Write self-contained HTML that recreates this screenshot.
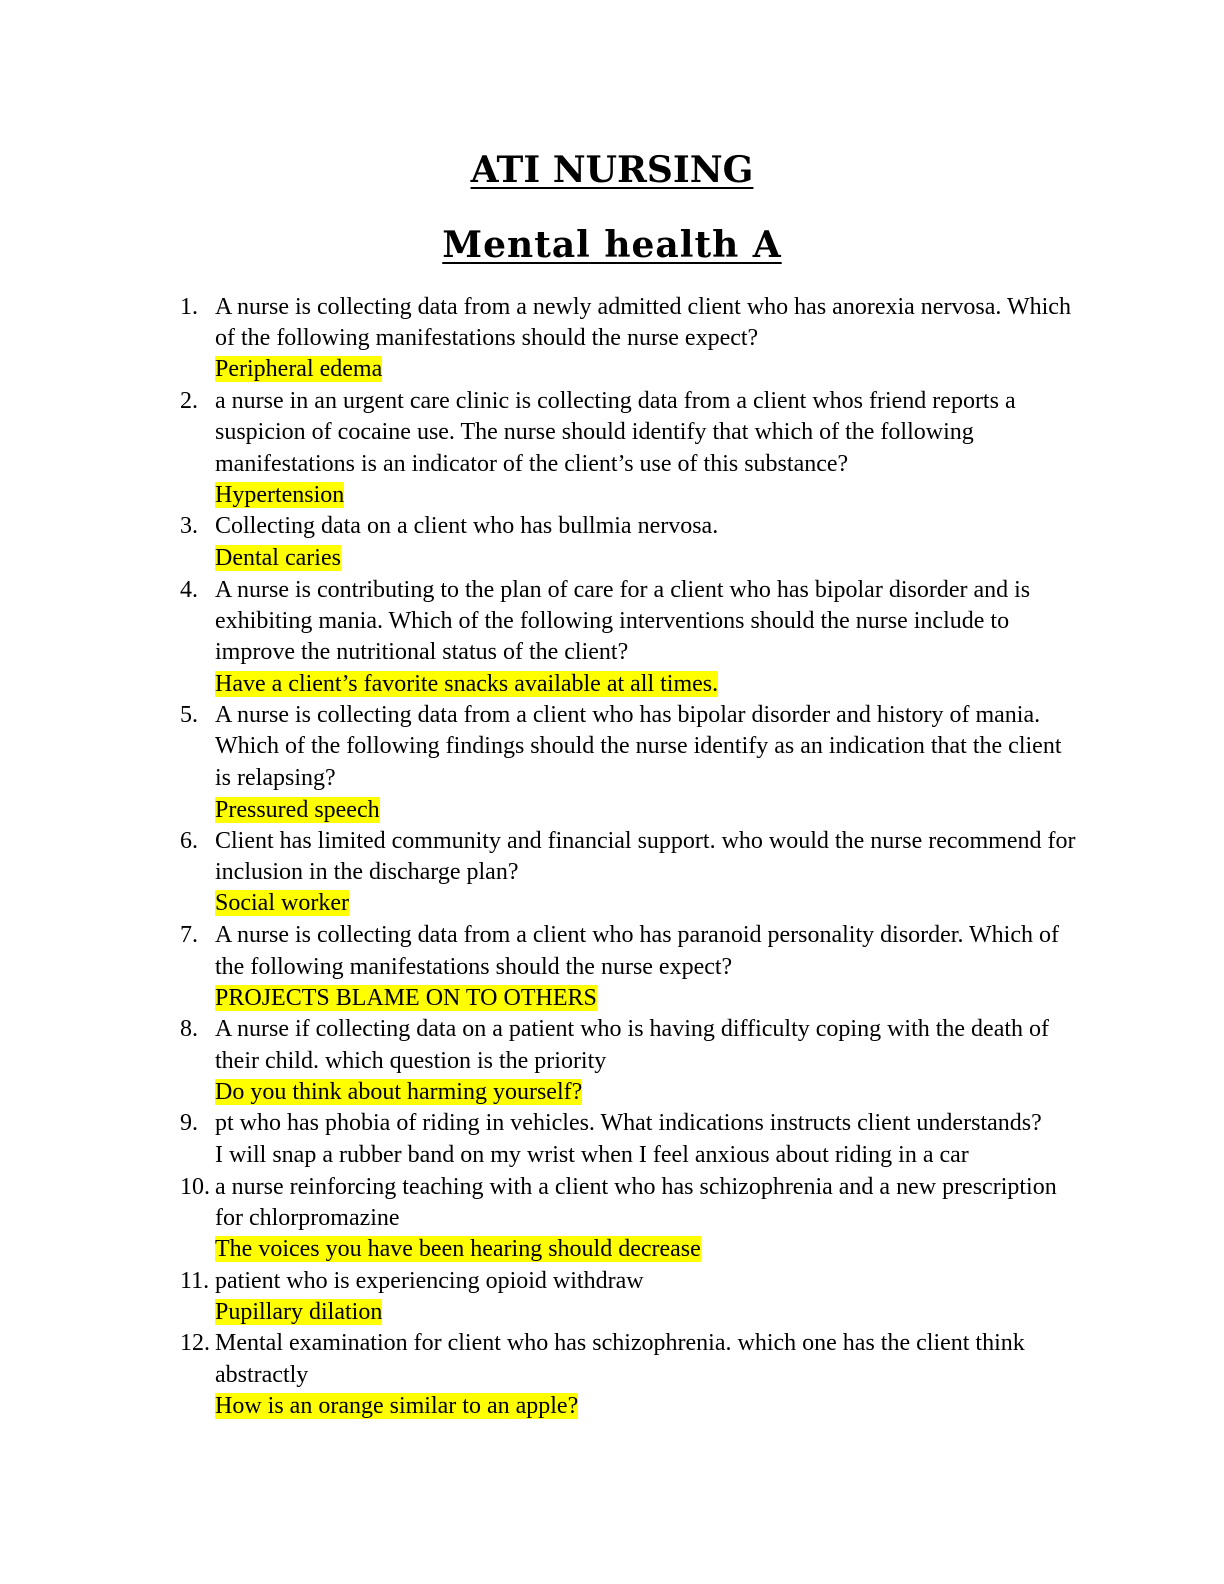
<!DOCTYPE html>
<html><head><meta charset="utf-8"><style>
body{margin:0;background:#fff;}
.p{position:relative;width:1224px;height:1584px;background:#fff;font-family:"Liberation Serif",serif;color:#000;}
.t{position:absolute;left:0;width:1224px;text-align:center;font-weight:bold;font-size:36px;line-height:48px;font-family:"DejaVu Serif",serif;}
.t span{text-decoration:underline;text-decoration-thickness:2px;text-underline-offset:5px;}
.l{position:absolute;left:215px;font-size:24px;line-height:26px;white-space:nowrap;}
.n{position:absolute;left:180px;font-size:24px;line-height:26px;}
.h{background:#ffff00;}
</style></head><body><div class="p">
<div class="t" style="top:146px"><span>ATI NURSING</span></div>
<div class="t" style="top:221px"><span style="letter-spacing:1px">Mental health A</span></div>

<div class="n" style="top:294px">1.</div>
<div class="l" style="top:294px">A nurse is collecting data from a newly admitted client who has anorexia nervosa. Which</div>
<div class="l" style="top:325px">of the following manifestations should the nurse expect?</div>
<div class="l" style="top:356px"><span class="h">Peripheral edema</span></div>

<div class="n" style="top:388px">2.</div>
<div class="l" style="top:388px">a nurse in an urgent care clinic is collecting data from a client whos friend reports a</div>
<div class="l" style="top:419px">suspicion of cocaine use. The nurse should identify that which of the following</div>
<div class="l" style="top:451px">manifestations is an indicator of the client’s use of this substance?</div>
<div class="l" style="top:482px"><span class="h">Hypertension</span></div>

<div class="n" style="top:513px">3.</div>
<div class="l" style="top:513px">Collecting data on a client who has bullmia nervosa.</div>
<div class="l" style="top:545px"><span class="h">Dental caries</span></div>

<div class="n" style="top:577px">4.</div>
<div class="l" style="top:577px">A nurse is contributing to the plan of care for a client who has bipolar disorder and is</div>
<div class="l" style="top:608px">exhibiting mania. Which of the following interventions should the nurse include to</div>
<div class="l" style="top:639px">improve the nutritional status of the client?</div>
<div class="l" style="top:671px"><span class="h">Have a client’s favorite snacks available at all times.</span></div>

<div class="n" style="top:702px">5.</div>
<div class="l" style="top:702px">A nurse is collecting data from a client who has bipolar disorder and history of mania.</div>
<div class="l" style="top:733px">Which of the following findings should the nurse identify as an indication that the client</div>
<div class="l" style="top:765px">is relapsing?</div>
<div class="l" style="top:797px"><span class="h">Pressured speech</span></div>

<div class="n" style="top:828px">6.</div>
<div class="l" style="top:828px">Client has limited community and financial support. who would the nurse recommend for</div>
<div class="l" style="top:859px">inclusion in the discharge plan?</div>
<div class="l" style="top:890px"><span class="h">Social worker</span></div>

<div class="n" style="top:922px">7.</div>
<div class="l" style="top:922px">A nurse is collecting data from a client who has paranoid personality disorder. Which of</div>
<div class="l" style="top:954px">the following manifestations should the nurse expect?</div>
<div class="l" style="top:985px"><span class="h">PROJECTS BLAME ON TO OTHERS</span></div>

<div class="n" style="top:1016px">8.</div>
<div class="l" style="top:1016px">A nurse if collecting data on a patient who is having difficulty coping with the death of</div>
<div class="l" style="top:1048px">their child. which question is the priority</div>
<div class="l" style="top:1079px"><span class="h">Do you think about harming yourself?</span></div>

<div class="n" style="top:1110px">9.</div>
<div class="l" style="top:1110px">pt who has phobia of riding in vehicles. What indications instructs client understands?</div>
<div class="l" style="top:1142px">I will snap a rubber band on my wrist when I feel anxious about riding in a car</div>

<div class="n" style="top:1174px">10.</div>
<div class="l" style="top:1174px">a nurse reinforcing teaching with a client who has schizophrenia and a new prescription</div>
<div class="l" style="top:1205px">for chlorpromazine</div>
<div class="l" style="top:1236px"><span class="h">The voices you have been hearing should decrease</span></div>

<div class="n" style="top:1268px">11.</div>
<div class="l" style="top:1268px">patient who is experiencing opioid withdraw</div>
<div class="l" style="top:1299px"><span class="h">Pupillary dilation</span></div>

<div class="n" style="top:1330px">12.</div>
<div class="l" style="top:1330px">Mental examination for client who has schizophrenia. which one has the client think</div>
<div class="l" style="top:1362px">abstractly</div>
<div class="l" style="top:1393px"><span class="h">How is an orange similar to an apple?</span></div>
</div></body></html>
